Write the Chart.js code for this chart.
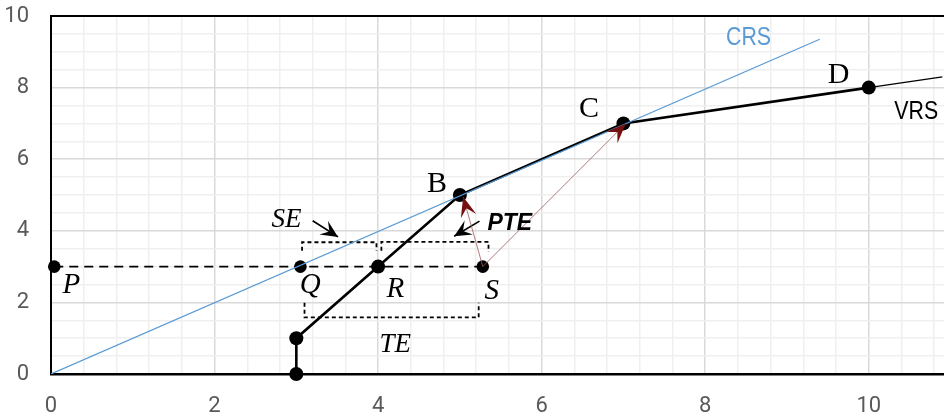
<!DOCTYPE html>
<html>
<head>
<meta charset="utf-8">
<script src="https://cdn.jsdelivr.net/npm/chart.js@4.4.0/dist/chart.umd.min.js"></script>
<style>
    html, body { margin: 0; padding: 0; background: #fff; }
</style>
</head>
<body>
<canvas id="chart" width="944" height="419"></canvas>
<script>
// Axis ranges and tick steps
const xRange = [0, 10.92];
const yRange = [0, 10];
const xMinorStep = 0.4;
const yMinorStep = 0.5;
const majorStep = 2;

// Frontiers
const crsLine = [[0, 0], [9.4, 9.35]];
const vrsPoints = [[3, 0], [3, 1], [4, 3], [5, 5], [7, 7], [10, 8]];
const vrsTail = [[10, 8], [10.9, 8.3]];

// Projection of unit S towards the y axis (P, Q, S)
const projectionPoints = [[0.04, 3], [3.05, 3], [5.28, 3]];

// Dashed brackets for SE, PTE and TE
const seBracket = [[3.07, 3.44], [3.07, 3.68], [3.98, 3.68], [3.98, 3.44]];
const pteBracket = [[4.04, 3.44], [4.04, 3.69], [5.35, 3.69], [5.35, 3.41]];
const teBracket = [[3.10, 1.99], [3.10, 1.58], [5.23, 1.58], [5.23, 1.99]];

// Arrows: [from, to]
const redArrows = [
    [[5.28, 3], [5.04, 4.95]],
    [[5.28, 3], [7.03, 7.0]]
];
const blackArrows = [
    [[3.20, 4.28], [3.51, 3.83]],
    [[5.24, 4.27], [4.93, 3.85]]
];

// Text annotations, anchored in data units
const textLabels = [
    { text: 'P', at: [0.25, 2.53], font: 'italic 29px "Liberation Serif"', color: '#000' },
    { text: 'Q', at: [3.17, 2.47], font: 'italic 29px "Liberation Serif"', color: '#000' },
    { text: 'R', at: [4.21, 2.42], font: 'italic 29px "Liberation Serif"', color: '#000' },
    { text: 'S', at: [5.39, 2.37], font: 'italic 29px "Liberation Serif"', color: '#000' },
    { text: 'TE', at: [4.21, 0.86], font: 'italic 27px "Liberation Serif"', color: '#000' },
    { text: 'SE', at: [2.88, 4.35], font: 'italic 27px "Liberation Serif"', color: '#000' },
    { text: 'PTE', at: [5.61, 4.25], font: 'italic bold 23px "Liberation Sans"', color: '#000' },
    { text: 'B', at: [4.72, 5.34], font: '30px "Liberation Serif"', color: '#000' },
    { text: 'C', at: [6.58, 7.44], font: '30px "Liberation Serif"', color: '#000' },
    { text: 'D', at: [9.63, 8.39], font: '30px "Liberation Serif"', color: '#000' },
    { text: 'CRS', at: [8.53, 9.43], font: '26px "Liberation Sans"', color: '#5b9bd5', stretch: 0.82 },
    { text: 'VRS', at: [10.58, 7.37], font: '26px "Liberation Sans"', color: '#000', stretch: 0.82 }
];

const toXY = pts => pts.map(([x, y]) => ({ x, y }));
const isMajor = v => Math.abs(v / majorStep - Math.round(v / majorStep)) < 1e-6;

function lineSet(pts, color, width, extra) {
    return Object.assign({
        data: toXY(pts),
        showLine: true,
        borderColor: color,
        backgroundColor: color,
        borderWidth: width,
        pointRadius: 0,
        pointHoverRadius: 0
    }, extra || {});
}

// Stealth-style arrow head at (x1, y1) pointing away from (x0, y0)
function drawArrowHead(ctx, x0, y0, x1, y1, len, halfW, color) {
    const a = Math.atan2(y1 - y0, x1 - x0);
    ctx.save();
    ctx.translate(x1, y1);
    ctx.rotate(a);
    ctx.beginPath();
    ctx.moveTo(0, 0);
    ctx.lineTo(-len, -halfW);
    ctx.lineTo(-len * 0.6, 0);
    ctx.lineTo(-len, halfW);
    ctx.closePath();
    ctx.fillStyle = color;
    ctx.fill();
    ctx.restore();
}

const decorations = {
    id: 'decorations',
    afterDatasetsDraw(chart) {
        const { ctx, chartArea, scales: { x, y } } = chart;

        // top frame line
        ctx.save();
        ctx.strokeStyle = '#000';
        ctx.lineWidth = 2;
        ctx.beginPath();
        ctx.moveTo(chartArea.left - 1, chartArea.top);
        ctx.lineTo(chartArea.right, chartArea.top);
        ctx.stroke();
        ctx.restore();

        redArrows.forEach(([from, to]) => {
            drawArrowHead(ctx, x.getPixelForValue(from[0]), y.getPixelForValue(from[1]),
                x.getPixelForValue(to[0]), y.getPixelForValue(to[1]), 20, 8, '#741010');
        });
        blackArrows.forEach(([from, to]) => {
            drawArrowHead(ctx, x.getPixelForValue(from[0]), y.getPixelForValue(from[1]),
                x.getPixelForValue(to[0]), y.getPixelForValue(to[1]), 17, 8, '#000');
        });

        textLabels.forEach(lbl => {
            ctx.save();
            ctx.font = lbl.font;
            ctx.fillStyle = lbl.color;
            ctx.textAlign = 'center';
            ctx.textBaseline = 'alphabetic';
            const m = ctx.measureText(lbl.text);
            ctx.translate(x.getPixelForValue(lbl.at[0]), y.getPixelForValue(lbl.at[1]));
            ctx.scale(lbl.stretch || 1, 1);
            ctx.fillText(lbl.text, 0, (m.actualBoundingBoxAscent - m.actualBoundingBoxDescent) / 2);
            ctx.restore();
        });
    }
};

const datasets = [
    lineSet(crsLine, '#5b9bd5', 1.2),
    ...redArrows.map(a => lineSet(a, '#9c5b5b', 0.8)),
    ...blackArrows.map(a => lineSet(a, '#000', 1.7)),
    lineSet(vrsPoints, '#000', 2.6, { pointRadius: 7, pointBackgroundColor: '#000', pointBorderWidth: 0, clip: false }),
    lineSet(vrsTail, '#000', 1.2),
    lineSet(projectionPoints, '#000', 1.7, { borderDash: [9, 6], pointRadius: 6.3, pointBackgroundColor: '#000', pointBorderWidth: 0, clip: false }),
    lineSet(seBracket, '#000', 1.8, { borderDash: [4, 3] }),
    lineSet(pteBracket, '#000', 1.8, { borderDash: [4, 3] }),
    lineSet(teBracket, '#000', 1.8, { borderDash: [4, 3] })
];

const tickFont = { family: 'Roboto, "Liberation Sans", sans-serif', size: 22 };

new Chart(document.getElementById('chart'), {
    type: 'scatter',
    data: { datasets },
    options: {
        responsive: false,
        animation: false,
        events: [],
        layout: { autoPadding: false, padding: { top: 16, right: 0, left: 0, bottom: 0 } },
        plugins: { legend: { display: false }, tooltip: { enabled: false } },
        scales: {
            x: {
                type: 'linear',
                min: xRange[0],
                max: xRange[1],
                afterFit: scale => {
                    scale.height = 45;
                    scale.paddingLeft = 0;
                    scale.paddingRight = 0;
                },
                border: { color: '#000', width: 2.5 },
                grid: {
                    drawTicks: false,
                    color: c => (c.tick && isMajor(c.tick.value)) ? '#d9d9d9' : '#efefef',
                    lineWidth: 1.5
                },
                ticks: {
                    stepSize: xMinorStep,
                    autoSkip: false,
                    includeBounds: false,
                    maxRotation: 0,
                    padding: 19,
                    color: '#595959',
                    font: tickFont,
                    callback: v => isMajor(v) ? String(Math.round(v)) : ''
                }
            },
            y: {
                type: 'linear',
                min: yRange[0],
                max: yRange[1],
                afterFit: scale => {
                    scale.width = 51;
                    scale.paddingTop = 0;
                    scale.paddingBottom = 0;
                },
                border: { color: '#000', width: 2 },
                grid: {
                    drawTicks: false,
                    color: c => (c.tick && isMajor(c.tick.value)) ? '#d9d9d9' : '#efefef',
                    lineWidth: 1.5
                },
                ticks: {
                    stepSize: yMinorStep,
                    autoSkip: false,
                    padding: 22,
                    color: '#595959',
                    font: tickFont,
                    callback: v => isMajor(v) ? String(Math.round(v)) : ''
                }
            }
        }
    },
    plugins: [decorations]
});
</script>
</body>
</html>
